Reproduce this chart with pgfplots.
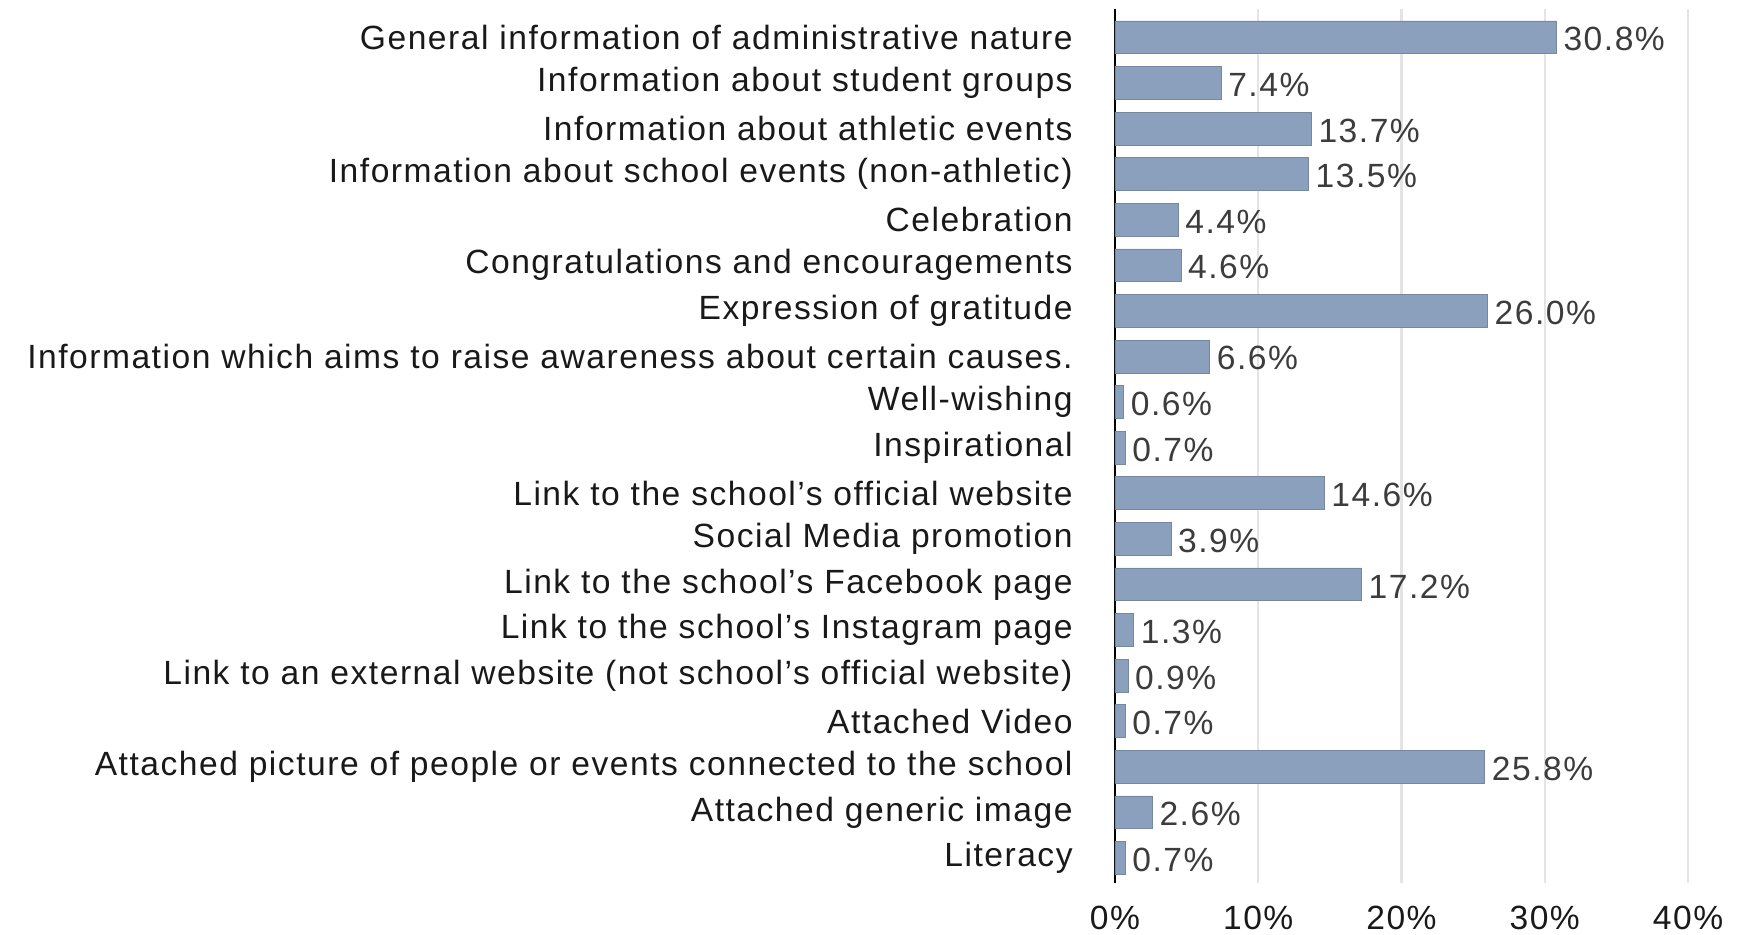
\documentclass[border=0pt]{standalone}
\usepackage{pgfplots}
\pgfplotsset{compat=1.18}
\usepackage{fontspec}
\setmainfont{Liberation Sans}
\newfontfamily\lsfont[LetterSpace=4.5]{Liberation Sans}
\definecolor{barc}{RGB}{139,160,188}
\definecolor{gridc}{RGB}{228,228,228}
\definecolor{txt}{RGB}{25,25,25}
\definecolor{vtxt}{RGB}{60,60,60}
\newcommand{\lf}{\lsfont\fontsize{16.8}{20}\selectfont}
\begin{document}
\begin{tikzpicture}
\begin{axis}[
  scale only axis,
  width=286.5pt, height=437pt,
  xmin=0, xmax=40,
  ymin=-0.62, ymax=18.55,
  y dir=reverse,
  xbar, bar width=0.72,
  axis x line*=bottom, axis y line*=left,
  x axis line style={draw=none},
  y axis line style={draw=black, line width=1.1pt, -},
  xmajorgrids, grid style={gridc, line width=1.2pt},
  major tick length=0pt,
  xtick={0,10,20,30,40},
  /pgf/number format/assume math mode=true,
  xticklabel={\pgfmathprintnumber{\tick}\%},
  xticklabel style={font=\lf, text=txt, anchor=north, inner sep=0pt, yshift=-11.5pt},
  ytick={0,...,18},
  yticklabels={
    General information of administrative nature,
    Information about student groups,
    Information about athletic events,
    Information about school events (non-athletic),
    Celebration,
    Congratulations and encouragements,
    Expression of gratitude,
    Information which aims to raise awareness about certain causes.,
    Well-wishing,
    Inspirational,
    Link to the school’s official website,
    Social Media promotion,
    Link to the school’s Facebook page,
    Link to the school’s Instagram page,
    Link to an external website (not school’s official website),
    Attached Video,
    Attached picture of people or events connected to the school,
    Attached generic image,
    Literacy},
  yticklabel style={font=\lf, text=txt, anchor=east, inner sep=0pt, xshift=-21pt},
  nodes near coords={\pgfmathprintnumber[fixed, fixed zerofill, precision=1]{\pgfplotspointmeta}\%},
  nodes near coords align=horizontal,
  every node near coord/.append style={font=\lf, text=vtxt, anchor=west, inner sep=0pt, xshift=3.5pt, yshift=-1pt},
]
\addplot[fill=barc, draw=barc!85!black, line width=0.3pt] coordinates {
  (30.8,0) (7.4,1) (13.7,2) (13.5,3) (4.4,4) (4.6,5) (26.0,6) (6.6,7)
  (0.6,8) (0.7,9) (14.6,10) (3.9,11) (17.2,12) (1.3,13) (0.9,14)
  (0.7,15) (25.8,16) (2.6,17) (0.7,18)
};
\end{axis}
\pgfresetboundingbox
\path[use as bounding box] ([xshift=-557.5pt,yshift=-26pt]current axis.south west) rectangle ([xshift=27pt,yshift=4.5pt]current axis.north east);
\end{tikzpicture}
\end{document}
